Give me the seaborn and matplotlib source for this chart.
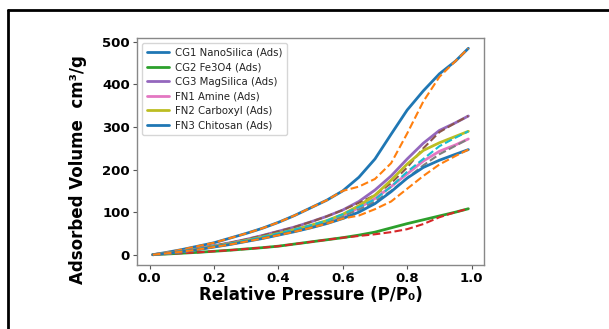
import numpy as np
import pandas as pd
import seaborn as sns
import matplotlib.pyplot as plt
from matplotlib.lines import Line2D

sns.set_theme(style="white")
plt.rcParams['font.family'] = ['DejaVu Sans']

pressure = [0.01, 0.05, 0.1, 0.15, 0.2, 0.25, 0.3, 0.35, 0.4, 0.45, 0.5,
            0.55, 0.6, 0.65, 0.7, 0.75, 0.8, 0.85, 0.9, 0.95, 0.99]

cg1_ads = [0, 5, 12, 20, 28, 39, 50, 62, 76, 92, 110, 128, 150, 182, 225, 283, 340, 385, 425, 455, 485]
cg1_des = [0, 5, 12, 20, 28, 39, 50, 62, 76, 92, 110, 128, 150, 160, 178, 215, 285, 360, 418, 455, 485]
cg2_ads = [0, 1.5, 3.5, 5.5, 8, 10.5, 13.5, 16.5, 20, 25, 30, 35, 40, 46, 53, 63, 73, 82, 91, 100, 108]
cg2_des = [0, 1.5, 3.5, 5.5, 8, 10.5, 13.5, 16.5, 20, 25, 30, 35, 40, 44, 48, 53, 60, 72, 88, 100, 108]
cg3_ads = [0, 3, 8, 14, 21, 28, 36, 45, 55, 65, 77, 90, 105, 125, 152, 185, 225, 262, 292, 310, 326]
cg3_des = [0, 3, 8, 14, 21, 28, 36, 45, 55, 65, 77, 90, 105, 122, 140, 168, 205, 250, 288, 310, 326]
fn1_ads = [0, 3, 7, 12.5, 19, 25, 32, 40, 48, 57, 66, 77, 91, 110, 132, 160, 190, 220, 243, 258, 272]
fn1_des = [0, 3, 7, 12.5, 19, 25, 32, 40, 48, 57, 66, 77, 91, 106, 125, 150, 180, 210, 236, 256, 272]
fn2_ads = [0, 3, 7.5, 13, 19.5, 26, 33.5, 41.5, 50, 59, 69, 80, 95, 115, 140, 175, 213, 245, 263, 278, 290]
fn2_des = [0, 3, 7.5, 13, 19.5, 26, 33.5, 41.5, 50, 59, 69, 80, 95, 112, 130, 160, 195, 225, 255, 275, 290]
fn3_ads = [0, 3, 7, 12, 18, 24, 31, 38, 46, 54, 63, 73, 85, 100, 120, 148, 180, 205, 222, 236, 247]
fn3_des = [0, 3, 7, 12, 18, 24, 31, 38, 46, 54, 63, 73, 85, 92, 107, 125, 155, 185, 212, 232, 247]

samples = ["CG1 NanoSilica", "CG2 Fe3O4", "CG3 MagSilica", "FN1 Amine", "FN2 Carboxyl", "FN3 Chitosan"]
ads_sets = [cg1_ads, cg2_ads, cg3_ads, fn1_ads, fn2_ads, fn3_ads]
des_sets = [cg1_des, cg2_des, cg3_des, fn1_des, fn2_des, fn3_des]
ads_colors = ["#1f77b4", "#2ca02c", "#9467bd", "#e377c2", "#bcbd22", "#1f77b4"]
des_colors = ["#ff7f0e", "#d62728", "#8c564b", "#7f7f7f", "#17becf", "#ff7f0e"]

fig = plt.figure(figsize=(6.09, 3.29), dpi=100)
ax = fig.add_axes([0.225, 0.1945, 0.57, 0.69])

for name, ads, des, ca, cd in zip(samples, ads_sets, des_sets, ads_colors, des_colors):
    df_a = pd.DataFrame({"P": pressure, "V": ads})
    df_d = pd.DataFrame({"P": pressure, "V": des})
    sns.lineplot(data=df_a, x="P", y="V", ax=ax, color=ca, lw=2, label=f"{name} (Ads)")
    sns.lineplot(data=df_d, x="P", y="V", ax=ax, color=cd, lw=1.5, ls="--", label="_nolegend_")

ax.set_xticks([0.0, 0.2, 0.4, 0.6, 0.8, 1.0])
ax.set_yticks([0, 100, 200, 300, 400, 500])
for lab in ax.get_xticklabels() + ax.get_yticklabels():
    lab.set_fontweight("bold")
    lab.set_fontsize(9.5)
    lab.set_color("black")
ax.tick_params(axis="both", length=3, width=0.8, color="#555555", pad=2, bottom=True, left=True)
for s in ax.spines.values():
    s.set_color("#888888")
    s.set_linewidth(1.0)

ax.set_xlabel("Relative Pressure (P/P\u2080)", fontsize=12, fontweight="bold", color="black", labelpad=1)
ax.set_ylabel("Adsorbed Volume  cm\u00b3/g", fontsize=12, fontweight="bold", color="black")
ax.yaxis.set_label_coords(-0.145, 0.42)

leg = ax.legend(loc="upper left", fontsize=7.3, frameon=True, handlelength=2.2,
                borderpad=0.45, labelspacing=0.45, handletextpad=0.6)
leg.get_frame().set_edgecolor("#cccccc")
for t in leg.get_texts():
    t.set_color("#222222")

# outer black frame
fig.add_artist(Line2D([8 / 609, 8 / 609], [0, 1 - 10 / 329], transform=fig.transFigure, color="black", lw=2))
fig.add_artist(Line2D([8 / 609, 1], [1 - 10 / 329, 1 - 10 / 329], transform=fig.transFigure, color="black", lw=2))

fig.savefig("out.png", dpi=100)
